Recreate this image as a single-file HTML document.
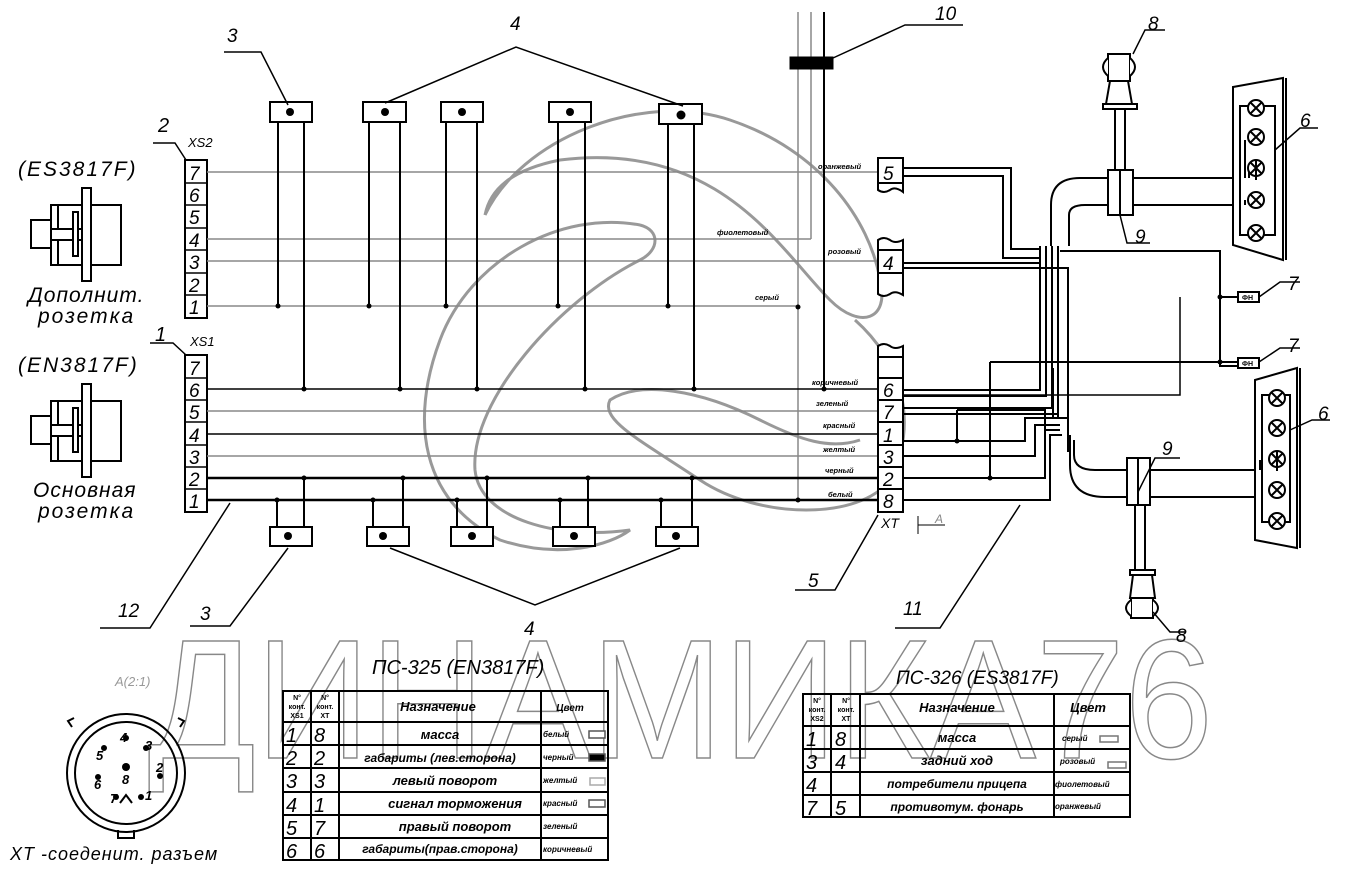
<!DOCTYPE html>
<html><head><meta charset="utf-8"><style>
html,body{margin:0;padding:0;background:#fff;}
svg{display:block;}
text{font-family:"Liberation Sans","DejaVu Sans",sans-serif;}
.it{font-style:italic;}
</style></head><body>
<svg width="1354" height="872" viewBox="0 0 1354 872" xmlns="http://www.w3.org/2000/svg">
<rect width="1354" height="872" fill="#fff"/>

<!-- watermark swirl -->
<g fill="none" stroke="#999" stroke-width="3">
<path d="M485 215 C 520 140, 640 90, 730 120 C 820 150, 870 220, 880 280 C 890 320, 860 330, 830 300 C 780 250, 720 140, 560 160 C 510 170, 490 190, 485 215"/>
<path d="M640 225 C 560 210, 470 260, 440 340 C 410 420, 420 500, 500 540 C 560 560, 610 545, 630 530 C 560 540, 480 520, 475 470 C 470 400, 560 300, 640 260 C 660 250, 660 230, 640 225"/>
<path d="M855 320 C 900 360, 920 420, 890 480 C 860 520, 760 520, 700 480 C 640 440, 600 420, 610 400 C 640 380, 700 390, 760 420 C 800 440, 830 450, 860 440"/>
</g>
<text x="148" y="758" font-size="170" fill="none" stroke="#888" stroke-width="1.5" textLength="1065" lengthAdjust="spacingAndGlyphs">ДИНАМИКА76</text>

<g stroke="#000" fill="none">
<rect x="185" y="160" width="22" height="158" stroke-width="2"/>
<g stroke-width="1.5">
<line x1="185" y1="183" x2="207" y2="183"/><line x1="185" y1="205" x2="207" y2="205"/><line x1="185" y1="228" x2="207" y2="228"/><line x1="185" y1="250" x2="207" y2="250"/><line x1="185" y1="273" x2="207" y2="273"/><line x1="185" y1="295" x2="207" y2="295"/>
</g>
<rect x="185" y="355" width="22" height="157" stroke-width="2"/>
<g stroke-width="1.5">
<line x1="185" y1="378" x2="207" y2="378"/><line x1="185" y1="400" x2="207" y2="400"/><line x1="185" y1="422" x2="207" y2="422"/><line x1="185" y1="445" x2="207" y2="445"/><line x1="185" y1="467" x2="207" y2="467"/><line x1="185" y1="489" x2="207" y2="489"/>
</g>
<path d="M153 143 L175 143 L186 160" stroke-width="1.5"/>
<path d="M150 343 L173 343 L186 355" stroke-width="1.5"/>
</g>

<g stroke="#888" stroke-width="1.5" fill="none">
<line x1="207" y1="172" x2="878" y2="172"/>
<line x1="207" y1="239" x2="811" y2="239"/>
<line x1="207" y1="261" x2="878" y2="261"/>
<line x1="207" y1="306" x2="798" y2="306"/>
<line x1="207" y1="411" x2="878" y2="411"/>
<line x1="207" y1="456" x2="878" y2="456"/>
<line x1="798" y1="12" x2="798" y2="500"/>
<line x1="811" y1="12" x2="811" y2="239"/>
</g>
<g stroke="#000" fill="none">
<line x1="207" y1="389" x2="878" y2="389" stroke-width="1.5"/>
<line x1="207" y1="434" x2="878" y2="434" stroke-width="1.5"/>
<line x1="207" y1="478" x2="878" y2="478" stroke-width="2.5"/>
<line x1="207" y1="500" x2="878" y2="500" stroke-width="2.5"/>
<line x1="824" y1="12" x2="824" y2="389" stroke-width="2"/>
<rect x="790" y="57" width="43" height="12" fill="#000"/>
<path d="M833 58 L905 25 L963 25" stroke-width="1.5"/>
</g>

<g stroke="#000" stroke-width="2" fill="#fff">
<rect x="270" y="102" width="42" height="20"/>
<rect x="363" y="102" width="43" height="20"/>
<rect x="441" y="102" width="42" height="20"/>
<rect x="549" y="102" width="42" height="20"/>
<rect x="659" y="104" width="43" height="20"/>
<rect x="270" y="527" width="42" height="19"/>
<rect x="367" y="527" width="42" height="19"/>
<rect x="451" y="527" width="42" height="19"/>
<rect x="553" y="527" width="42" height="19"/>
<rect x="656" y="527" width="42" height="19"/>
</g>
<g fill="#000">
<circle cx="290" cy="112" r="4"/><circle cx="385" cy="112" r="4"/><circle cx="462" cy="112" r="4"/><circle cx="570" cy="112" r="4"/><circle cx="681" cy="115" r="4.5"/>
<circle cx="288" cy="536" r="4"/><circle cx="383" cy="536" r="4"/><circle cx="472" cy="536" r="4"/><circle cx="574" cy="536" r="4"/><circle cx="676" cy="536" r="4"/>
</g>
<g stroke="#000" stroke-width="2">
<line x1="278" y1="122" x2="278" y2="306"/><line x1="304" y1="122" x2="304" y2="389"/>
<line x1="369" y1="122" x2="369" y2="306"/><line x1="400" y1="122" x2="400" y2="389"/>
<line x1="446" y1="122" x2="446" y2="306"/><line x1="477" y1="122" x2="477" y2="389"/>
<line x1="558" y1="122" x2="558" y2="306"/><line x1="585" y1="122" x2="585" y2="389"/>
<line x1="668" y1="124" x2="668" y2="306"/><line x1="694" y1="124" x2="694" y2="389"/>
<line x1="277" y1="500" x2="277" y2="527"/><line x1="304" y1="478" x2="304" y2="527"/>
<line x1="373" y1="500" x2="373" y2="527"/><line x1="403" y1="478" x2="403" y2="527"/>
<line x1="457" y1="500" x2="457" y2="527"/><line x1="487" y1="478" x2="487" y2="527"/>
<line x1="560" y1="500" x2="560" y2="527"/><line x1="588" y1="478" x2="588" y2="527"/>
<line x1="661" y1="500" x2="661" y2="527"/><line x1="692" y1="478" x2="692" y2="527"/>
</g>
<g fill="#000">
<circle cx="278" cy="306" r="2.5"/><circle cx="369" cy="306" r="2.5"/><circle cx="446" cy="306" r="2.5"/><circle cx="558" cy="306" r="2.5"/><circle cx="668" cy="306" r="2.5"/><circle cx="798" cy="307" r="2.5"/>
<circle cx="304" cy="389" r="2.5"/><circle cx="400" cy="389" r="2.5"/><circle cx="477" cy="389" r="2.5"/><circle cx="585" cy="389" r="2.5"/><circle cx="694" cy="389" r="2.5"/><circle cx="824" cy="389" r="2.5"/>
<circle cx="277" cy="500" r="2.5"/><circle cx="373" cy="500" r="2.5"/><circle cx="457" cy="500" r="2.5"/><circle cx="560" cy="500" r="2.5"/><circle cx="661" cy="500" r="2.5"/><circle cx="798" cy="500" r="2.5"/>
<circle cx="304" cy="478" r="2.5"/><circle cx="403" cy="478" r="2.5"/><circle cx="487" cy="478" r="2.5"/><circle cx="588" cy="478" r="2.5"/><circle cx="692" cy="478" r="2.5"/>
</g>

<g stroke="#000" stroke-width="1.5" fill="none">
<path d="M224 52 L261 52 L288 105"/>
<path d="M385 103 L516 47 L683 106"/>
<path d="M390 548 L535 605 L680 548"/>
<path d="M100 628 L150 628 L230 503"/>
<path d="M190 626 L230 626 L288 548"/>
<path d="M795 590 L835 590 L878 515"/>
<path d="M895 628 L940 628 L1020 505"/>
<path d="M918 516 L918 534 M918 525 L945 525" stroke-width="1"/>
</g>

<g stroke="#000" stroke-width="2" fill="#fff">
<path d="M878 158 L903 158 L903 192 Q 895 186 890 190 Q 884 194 878 190 Z"/>
<line x1="878" y1="183" x2="903" y2="183"/>
<path d="M878 240 Q 884 236 890 240 Q 895 244 903 240 L903 295 Q 895 290 890 294 Q 884 298 878 294 Z"/>
<line x1="878" y1="250" x2="903" y2="250"/><line x1="878" y1="273" x2="903" y2="273"/>
<path d="M878 346 Q 884 342 890 346 Q 895 350 903 346 L903 512 L878 512 Z"/>
<line x1="878" y1="357" x2="903" y2="357"/>
<line x1="878" y1="378" x2="903" y2="378"/><line x1="878" y1="400" x2="903" y2="400"/><line x1="878" y1="422" x2="903" y2="422"/><line x1="878" y1="445" x2="903" y2="445"/><line x1="878" y1="467" x2="903" y2="467"/><line x1="878" y1="489" x2="903" y2="489"/>
</g>

<g stroke="#000" stroke-width="2" fill="none">
<path d="M903 168 L1011 168 L1011 249 L1040 249"/>
<path d="M903 176 L1003 176 L1003 258 L1040 258"/>
<path d="M903 263 L1040 263"/>
<path d="M903 268 L1068 268 L1068 452"/>
<path d="M1040 246 L1040 390 L903 390 M1046 246 L1046 396 L903 396 M1052 246 L1052 408 L903 408 M1058 246 L1058 414 L903 414"/>
<path d="M1051 246 L1051 205 Q1051 178 1080 178 L1245 178"/>
<path d="M1069 246 L1069 215 Q1069 205 1085 205 L1245 205"/>
<path d="M1060 251 L1220 251 L1220 366 L1240 366"/>
<path d="M1220 297 L1240 297"/>
<path d="M1180 297 L1180 395 L903 395" stroke-width="1.5"/>
<path d="M990 362 L1240 362"/>
<path d="M990 362 L990 478"/>
<path d="M1053 368 L1053 418 M1058 368 L1058 418"/>
<path d="M957 410 L1045 410 L1045 440 M957 410 L957 440"/>
<path d="M903 441 L1025 441 L1025 418 L1068 418"/>
<path d="M903 456 L1035 456 L1035 425 L1060 425"/>
<path d="M903 478 L1045 478 L1045 430 L1060 430"/>
<path d="M903 500 L1050 500 L1050 435 L1062 435"/>
<path d="M1070 435 L1070 465 Q1070 497 1105 497 L1255 497"/>
<path d="M1074 440 L1074 455 Q 1074 470 1095 470 L1255 470" />
<path d="M1115 110 L1115 172 M1125 110 L1125 172"/>
<path d="M1135 505 L1135 570 M1145 505 L1145 570"/>
</g>
<g fill="#000"><circle cx="1220" cy="297" r="2.5"/><circle cx="1220" cy="362" r="2.5"/><circle cx="957" cy="441" r="2.5"/><circle cx="990" cy="478" r="2.5"/></g>

<g stroke="#000" stroke-width="2" fill="#fff">
<rect x="1108" y="170" width="25" height="45"/><line x1="1120" y1="170" x2="1120" y2="215"/>
<rect x="1127" y="458" width="23" height="47"/><line x1="1138" y1="458" x2="1138" y2="505"/>
</g>
<g stroke="#000" stroke-width="1.5" fill="none">
<path d="M1120 215 L1127 243 L1150 243"/>
<path d="M1138 492 L1155 458 L1180 458"/>
</g>
<g stroke="#000" stroke-width="2" fill="#fff">
<rect x="1238" y="292" width="21" height="10"/><rect x="1238" y="358" width="21" height="10"/>
</g>
<g stroke="#000" stroke-width="1.5" fill="none">
<path d="M1259 297 L1280 282 L1300 282"/><path d="M1259 362 L1280 348 L1300 348"/>
</g>
<text x="1242" y="300" font-size="7" font-weight="bold">ФН</text>
<text x="1242" y="366" font-size="7" font-weight="bold">ФН</text>

<g stroke="#000" stroke-width="2" fill="#fff">
<rect x="1108" y="54" width="22" height="27"/>
<path d="M1108 58 Q1098 67 1108 76 M1130 58 Q1140 67 1130 76"/>
<path d="M1110 81 L1128 81 L1132 104 L1106 104 Z"/>
<rect x="1103" y="104" width="34" height="5"/>
<path d="M1133 54 L1145 30 L1165 30" fill="none" stroke-width="1.5"/>
</g>
<g stroke="#000" stroke-width="2" fill="#fff">
<rect x="1130" y="570" width="25" height="5"/>
<path d="M1133 575 L1152 575 L1155 598 L1130 598 Z"/>
<rect x="1131" y="598" width="22" height="20"/>
<path d="M1131 600 Q1121 608 1131 616 M1153 600 Q1163 608 1153 616"/>
<path d="M1153 612 L1170 632 L1185 632" fill="none" stroke-width="1.5"/>
</g>

<g stroke="#000" stroke-width="2" fill="#fff">
<path d="M1233 87 L1283 78 L1283 260 L1233 245 Z"/>
<line x1="1286" y1="78" x2="1286" y2="260"/>
<path d="M1255 380 L1297 368 L1297 548 L1255 540 Z"/>
<line x1="1300" y1="368" x2="1300" y2="548"/>
</g>
<g stroke="#000" stroke-width="2" fill="none">
<path d="M1240 106 L1240 235 L1275 235 L1275 106 Z"/>
<path d="M1262 395 L1262 522 L1290 522 L1290 395 Z"/>
<path d="M1245 178 L1245 140 M1249 178 L1249 168 M1245 205 L1245 200"/>
<path d="M1255 490 L1255 430 M1260 470 L1260 460"/>
</g>
<g stroke="#000" stroke-width="2" fill="#fff">
<circle cx="1256" cy="108" r="8"/><circle cx="1256" cy="137" r="8"/><circle cx="1256" cy="168" r="8"/><circle cx="1256" cy="200" r="8"/><circle cx="1256" cy="233" r="8"/>
<circle cx="1277" cy="398" r="8"/><circle cx="1277" cy="428" r="8"/><circle cx="1277" cy="459" r="8"/><circle cx="1277" cy="490" r="8"/><circle cx="1277" cy="521" r="8"/>
</g>
<g stroke="#000" stroke-width="2">
<path d="M1250 102 l12 12 m0 -12 l-12 12 M1250 131 l12 12 m0 -12 l-12 12 M1250 162 l12 12 m0 -12 l-12 12 M1256 160 l0 20 M1250 194 l12 12 m0 -12 l-12 12 M1250 227 l12 12 m0 -12 l-12 12"/>
<path d="M1271 392 l12 12 m0 -12 l-12 12 M1271 422 l12 12 m0 -12 l-12 12 M1271 453 l12 12 m0 -12 l-12 12 M1277 451 l0 20 M1271 484 l12 12 m0 -12 l-12 12 M1271 515 l12 12 m0 -12 l-12 12"/>
<path d="M1275 150 L1300 128 L1318 128 M1290 430 L1312 420 L1330 420" stroke-width="1.5" fill="none"/>
</g>

<g stroke="#000" stroke-width="2" fill="#fff">
<g>
<rect x="51" y="205" width="70" height="60"/>
<rect x="82" y="188" width="9" height="93"/>
<rect x="31" y="220" width="20" height="28"/>
<path d="M51 229 L82 229 M51 240 L82 240 M58 205 L58 229 M58 240 L58 265"/>
<rect x="73" y="212" width="5" height="44"/>
</g>
<g transform="translate(0,196)">
<rect x="51" y="205" width="70" height="60"/>
<rect x="82" y="188" width="9" height="93"/>
<rect x="31" y="220" width="20" height="28"/>
<path d="M51 229 L82 229 M51 240 L82 240 M58 205 L58 229 M58 240 L58 265"/>
<rect x="73" y="212" width="5" height="44"/>
</g>
</g>

<g stroke="#000" stroke-width="2" fill="none">
<circle cx="126" cy="773" r="59"/>
<circle cx="126" cy="773" r="51"/>
<path d="M72 727 l-4 -6 l6 -3 M180 727 l4 -6 l-6 -3 M118 830 l0 8 l16 0 l0 -8"/>
<path d="M120 803 l6 -8 l6 8"/>
</g>
<g fill="#000"><circle cx="126" cy="767" r="4"/><circle cx="104" cy="748" r="3"/><circle cx="146" cy="748" r="3"/><circle cx="98" cy="777" r="3"/><circle cx="160" cy="776" r="3"/><circle cx="116" cy="797" r="3"/><circle cx="141" cy="797" r="3"/><circle cx="126" cy="738" r="3"/></g>
<g font-size="13" font-weight="bold" class="it">
<text x="120" y="742">4</text><text x="145" y="750">3</text><text x="96" y="760">5</text><text x="156" y="772">2</text><text x="94" y="789">6</text><text x="122" y="784">8</text><text x="110" y="803">7</text><text x="145" y="800">1</text>
</g>
<text x="115" y="686" font-size="13" fill="#999" class="it">A(2:1)</text>
<text x="10" y="860" font-size="18" letter-spacing="1" class="it">XT -соеденит. разъем</text>

<g class="it">
<text x="18" y="176" font-size="21" letter-spacing="2">(ES3817F)</text>
<text x="28" y="302" font-size="21" letter-spacing="1">Дополнит.</text>
<text x="38" y="323" font-size="21" letter-spacing="2">розетка</text>
<text x="18" y="372" font-size="21" letter-spacing="2">(EN3817F)</text>
<text x="33" y="497" font-size="21" letter-spacing="1">Основная</text>
<text x="38" y="518" font-size="21" letter-spacing="2">розетка</text>
<text x="158" y="132" font-size="20">2</text>
<text x="188" y="147" font-size="13">XS2</text>
<text x="155" y="341" font-size="20">1</text>
<text x="190" y="346" font-size="13">XS1</text>
</g>
<g font-size="19" class="it">
<text x="189" y="180">7</text><text x="189" y="202">6</text><text x="189" y="224">5</text><text x="189" y="247">4</text><text x="189" y="269">3</text><text x="189" y="292">2</text><text x="189" y="314">1</text>
<text x="189" y="375">7</text><text x="189" y="397">6</text><text x="189" y="419">5</text><text x="189" y="442">4</text><text x="189" y="464">3</text><text x="189" y="486">2</text><text x="189" y="508">1</text>
<text x="883" y="180">5</text><text x="883" y="270">4</text>
<text x="883" y="397">6</text><text x="883" y="419">7</text><text x="883" y="442">1</text><text x="883" y="464">3</text><text x="883" y="486">2</text><text x="883" y="508">8</text>
</g>
<g font-size="19" class="it">
<text x="227" y="42">3</text><text x="510" y="30">4</text><text x="935" y="20">10</text>
<text x="118" y="617">12</text><text x="200" y="620">3</text><text x="524" y="635">4</text><text x="808" y="587">5</text><text x="903" y="615">11</text>
<text x="1300" y="127">6</text><text x="1318" y="420">6</text><text x="1288" y="290">7</text><text x="1288" y="352">7</text>
<text x="1148" y="30">8</text><text x="1176" y="642">8</text><text x="1135" y="243">9</text><text x="1162" y="455">9</text>
<text x="881" y="528" font-size="14">XT</text><text x="935" y="523" font-size="12" fill="#888">A</text>
</g>
<g font-size="7.5" font-weight="bold" class="it">
<text x="818" y="169">оранжевый</text><text x="717" y="235">фиолетовый</text><text x="828" y="254">розовый</text><text x="755" y="300">серый</text>
<text x="812" y="385">коричневый</text><text x="816" y="406">зеленый</text><text x="823" y="428">красный</text><text x="823" y="452">желтый</text><text x="825" y="473">черный</text><text x="828" y="497">белый</text>
</g>

<text x="372" y="674" font-size="20" class="it">ПС-325 (EN3817F)</text>
<g stroke="#000" stroke-width="2" fill="none">
<rect x="283" y="691" width="325" height="169"/>
<line x1="311" y1="691" x2="311" y2="860"/><line x1="339" y1="691" x2="339" y2="860"/><line x1="541" y1="691" x2="541" y2="860"/>
<line x1="283" y1="722" x2="608" y2="722"/><line x1="283" y1="745" x2="608" y2="745"/><line x1="283" y1="768" x2="608" y2="768"/><line x1="283" y1="792" x2="608" y2="792"/><line x1="283" y1="815" x2="608" y2="815"/><line x1="283" y1="838" x2="608" y2="838"/>
</g>
<g font-size="7" font-weight="bold" text-anchor="middle">
<text x="297" y="700">N°</text><text x="297" y="709">конт.</text><text x="297" y="718">XS1</text>
<text x="325" y="700">N°</text><text x="325" y="709">конт.</text><text x="325" y="718">XT</text>
</g>
<g font-size="13" font-weight="bold" class="it" text-anchor="middle">
<text x="438" y="711">Назначение</text><text x="570" y="711" font-size="10">Цвет</text>
<text x="440" y="739">масса</text><text x="440" y="762" font-size="12">габариты (лев.сторона)</text><text x="445" y="785">левый поворот</text><text x="455" y="808">сигнал торможения</text><text x="455" y="831">правый поворот</text><text x="440" y="853" font-size="12">габариты(прав.сторона)</text>
</g>
<g font-size="20" class="it">
<text x="286" y="742">1</text><text x="314" y="742">8</text><text x="286" y="765">2</text><text x="314" y="765">2</text><text x="286" y="788">3</text><text x="314" y="788">3</text><text x="286" y="812">4</text><text x="314" y="812">1</text><text x="286" y="835">5</text><text x="314" y="835">7</text><text x="286" y="858">6</text><text x="314" y="858">6</text>
</g>
<g font-size="8" font-weight="bold" class="it">
<text x="543" y="737">белый</text><text x="543" y="760">черный</text><text x="543" y="783">желтый</text><text x="543" y="806">красный</text><text x="543" y="829">зеленый</text><text x="543" y="852">коричневый</text>
</g>
<g stroke="#555" stroke-width="1.5" fill="#fff"><rect x="589" y="731" width="16" height="7"/><rect x="589" y="754" width="16" height="7" fill="#000"/><rect x="590" y="778" width="15" height="7" stroke="#aaa"/><rect x="589" y="800" width="16" height="7"/></g>

<text x="896" y="684" font-size="19" class="it">ПС-326 (ES3817F)</text>
<g stroke="#000" stroke-width="2" fill="none">
<rect x="803" y="694" width="327" height="123"/>
<line x1="831" y1="694" x2="831" y2="817"/><line x1="860" y1="694" x2="860" y2="817"/><line x1="1054" y1="694" x2="1054" y2="817"/>
<line x1="803" y1="726" x2="1130" y2="726"/><line x1="803" y1="749" x2="1130" y2="749"/><line x1="803" y1="772" x2="1130" y2="772"/><line x1="803" y1="795" x2="1130" y2="795"/>
</g>
<g font-size="7" font-weight="bold" text-anchor="middle">
<text x="817" y="703">N°</text><text x="817" y="712">конт.</text><text x="817" y="721">XS2</text>
<text x="846" y="703">N°</text><text x="846" y="712">конт.</text><text x="846" y="721">XT</text>
</g>
<g font-size="13" font-weight="bold" class="it" text-anchor="middle">
<text x="957" y="712">Назначение</text><text x="1088" y="712">Цвет</text>
<text x="957" y="742">масса</text><text x="957" y="765">задний ход</text><text x="957" y="788" font-size="12">потребители прицепа</text><text x="957" y="811" font-size="12">противотум. фонарь</text>
</g>
<g font-size="20" class="it">
<text x="806" y="746">1</text><text x="835" y="746">8</text><text x="806" y="769">3</text><text x="835" y="769">4</text><text x="806" y="792">4</text><text x="806" y="815">7</text><text x="835" y="815">5</text>
</g>
<g font-size="8" font-weight="bold" class="it">
<text x="1062" y="741">серый</text><text x="1060" y="764">розовый</text><text x="1055" y="787">фиолетовый</text><text x="1055" y="809">оранжевый</text>
</g>
<g stroke="#777" stroke-width="1.5" fill="#fff"><rect x="1100" y="736" width="18" height="6"/><rect x="1108" y="762" width="18" height="6"/></g>
</svg>
</body></html>
